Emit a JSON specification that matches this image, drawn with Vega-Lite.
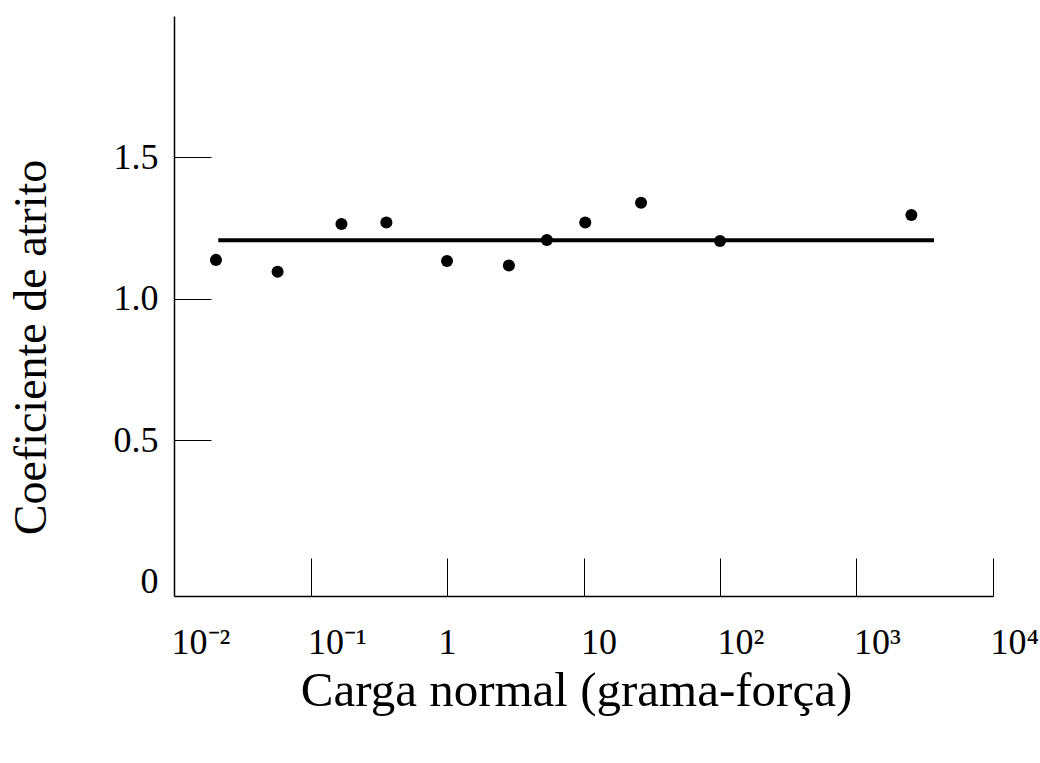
{
  "$schema": "https://vega.github.io/schema/vega-lite/v6.json",
  "width": 819,
  "height": 580,
  "autosize": {"type": "none"},
  "padding": {"left": 174, "top": 16, "right": 47, "bottom": 167},
  "background": "white",
  "config": {
    "view": {"stroke": null},
    "font": "Liberation Serif",
    "axis": {"labelFont": "Liberation Serif", "titleFont": "Liberation Serif", "titleFontWeight": "normal", "domainColor": "black", "tickColor": "black", "labelColor": "black", "titleColor": "black", "grid": false}
  },
  "datasets": {
    "pontos": [
      {"carga": 0.0203, "coef": 1.138},
      {"carga": 0.0574, "coef": 1.096},
      {"carga": 0.1686, "coef": 1.265},
      {"carga": 0.3597, "coef": 1.270},
      {"carga": 1.0, "coef": 1.134},
      {"carga": 2.84, "coef": 1.118},
      {"carga": 5.39, "coef": 1.208},
      {"carga": 10.3, "coef": 1.270},
      {"carga": 26.4, "coef": 1.340},
      {"carga": 100, "coef": 1.205},
      {"carga": 2524, "coef": 1.297}
    ],
    "media": [
      {"carga": 0.0211, "coef": 1.207},
      {"carga": 3700, "coef": 1.207}
    ]
  },
  "layer": [
    {
      "data": {"name": "media"},
      "mark": {"type": "line", "color": "black", "strokeWidth": 4, "strokeCap": "butt"},
      "encoding": {
        "x": {
          "field": "carga", "type": "quantitative",
          "scale": {"type": "log", "domain": [0.01, 10000], "nice": false},
          "axis": {
            "orient": "bottom",
            "values": [0.01, 0.1, 1, 10, 100, 1000, 10000],
            "labelExpr": "datum.value < 0.05 ? '10⁻²' : datum.value < 0.5 ? '10⁻¹' : datum.value < 5 ? '1' : datum.value < 50 ? '10' : datum.value < 500 ? '10²' : datum.value < 5000 ? '10³' : '10⁴'",
            "labelAlign": {"condition": {"test": "datum.value > 0.5 && datum.value < 5", "value": "center"}, "value": "left"},
            "labelOffset": {"condition": {"test": "datum.value > 0.5 && datum.value < 5", "value": 0}, "value": -3},
            "labelOverlap": false,
            "labelFlush": false,
            "labelBound": false,
            "labelFontSize": 36,
            "labelPadding": 67,
            "tickSize": -38,
            "tickWidth": 1,
            "domainWidth": 1.5,
            "title": "Carga normal (grama-força)",
            "titleFontSize": 49,
            "titleX": 402,
            "titleY": 109,
            "titleBaseline": "alphabetic"
          }
        },
        "y": {
          "field": "coef", "type": "quantitative",
          "scale": {"domain": [-0.05, 2.0], "nice": false, "zero": false},
          "axis": {
            "orient": "left",
            "values": [0, 0.5, 1, 1.5],
            "labelExpr": "datum.value == 0 ? '0' : format(datum.value, '.1f')",
            "tickOpacity": {"condition": {"test": "datum.value == 0", "value": 0}, "value": 1},
            "labelOverlap": false,
            "labelFlush": false,
            "labelBound": false,
            "labelFontSize": 36,
            "labelPadding": 53,
            "tickSize": -37,
            "tickWidth": 1,
            "domainWidth": 1.5,
            "title": "Coeficiente de atrito",
            "titleFontSize": 46,
            "titleX": -129,
            "titleY": 331,
            "titleBaseline": "alphabetic"
          }
        }
      }
    },
    {
      "data": {"name": "pontos"},
      "mark": {"type": "circle", "color": "black", "opacity": 1, "size": 145},
      "encoding": {
        "x": {"field": "carga", "type": "quantitative"},
        "y": {"field": "coef", "type": "quantitative"}
      }
    }
  ]
}
